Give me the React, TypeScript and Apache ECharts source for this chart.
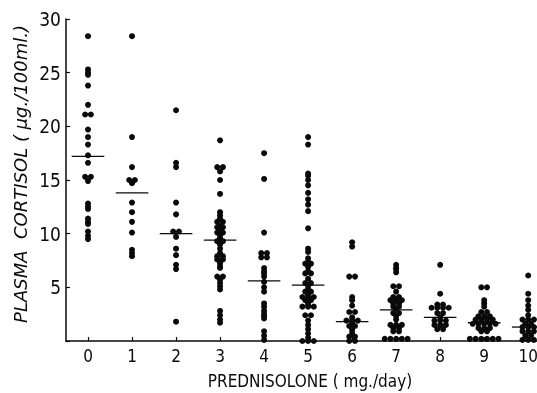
import React, { useEffect, useRef } from "react";
import * as echarts from "echarts";

// Tick labels of the dose axis (mg./day)
const tickLabels = ["0", "1", "2", "3", "4", "5", "6", "7", "8", "9", "10"];
const yTicks = [0, 5, 10, 15, 20, 25, 30];

// Plasma cortisol (µg./100ml.) per prednisolone dose
const dose0 = [28.4, 25.3, 25.0, 24.8, 23.8, 22.0, 21.1, 21.1, 19.7, 19.0, 18.3, 17.3, 16.6, 15.3, 15.3, 14.9, 12.8, 12.5, 12.3, 11.4, 11.1, 10.9, 10.2, 9.8, 9.5];
const dose1 = [28.4, 19.0, 16.2, 15.0, 15.0, 14.7, 12.9, 12.0, 11.1, 10.1, 8.5, 8.2, 7.9];
const dose2 = [21.5, 16.6, 16.2, 12.9, 11.8, 10.2, 10.2, 9.7, 8.6, 8.0, 7.1, 6.7, 1.8];
const dose3 = [18.7, 16.2, 16.2, 15.8, 15.0, 13.7, 12.0, 11.7, 11.4, 11.1, 11.1, 10.7, 10.6, 10.6, 10.4, 10.2, 10.1, 10.1, 9.9, 9.6, 9.5, 9.3, 9.3, 9.0, 8.6, 8.2, 7.9, 7.9, 7.6, 7.6, 7.4, 7.2, 6.9, 6.8, 6.0, 6.0, 5.7, 5.4, 5.1, 4.8, 2.8, 2.4, 2.0, 1.7];
const dose4 = [17.5, 15.1, 10.1, 8.2, 8.2, 7.8, 7.8, 6.8, 6.5, 6.3, 6.0, 5.5, 5.0, 4.6, 3.5, 3.2, 2.8, 2.5, 2.3, 2.1, 0.9, 0.5, 0.1];
const dose5 = [19.0, 18.3, 15.6, 15.4, 15.0, 14.5, 13.8, 13.2, 12.7, 12.1, 10.5, 8.6, 8.3, 7.7, 7.4, 7.2, 7.2, 6.9, 6.5, 6.3, 6.3, 5.8, 5.4, 5.4, 5.1, 4.8, 4.6, 4.6, 4.3, 4.1, 4.1, 4.1, 3.8, 3.8, 3.6, 3.4, 3.2, 3.2, 3.2, 2.4, 2.4, 1.9, 1.5, 1.1, 0.7, 0.3, 0.0, 0.0, 0.0];
const dose6 = [9.2, 8.8, 6.0, 6.0, 4.1, 3.8, 3.3, 2.7, 2.7, 2.2, 1.9, 1.9, 1.9, 1.7, 1.5, 1.4, 1.4, 1.2, 1.0, 0.7, 0.4, 0.4, 0.0, 0.0];
const dose7 = [7.1, 6.8, 6.7, 6.4, 5.1, 5.1, 4.6, 4.1, 4.1, 3.8, 3.8, 3.8, 3.5, 3.5, 3.2, 3.2, 3.0, 2.6, 2.6, 2.3, 2.0, 1.5, 1.5, 1.5, 1.2, 1.2, 0.9, 0.9, 0.2, 0.2, 0.2, 0.2, 0.2];
const dose8 = [7.1, 4.4, 3.4, 3.4, 3.1, 3.1, 3.1, 3.1, 2.6, 2.6, 2.2, 1.9, 1.9, 1.9, 1.5, 1.5, 1.5, 1.1, 1.1];
const dose9 = [5.0, 5.0, 3.8, 3.5, 3.2, 2.7, 2.7, 2.3, 2.3, 2.3, 2.0, 2.0, 2.0, 2.0, 1.6, 1.6, 1.6, 1.6, 1.6, 1.2, 1.2, 1.2, 0.9, 0.9, 0.2, 0.2, 0.2, 0.2, 0.2, 0.2];
const dose10 = [6.1, 4.4, 3.8, 3.3, 2.9, 2.4, 2.0, 2.0, 2.0, 1.6, 1.6, 1.3, 1.3, 1.3, 0.9, 0.9, 0.9, 0.5, 0.5, 0.1, 0.1, 0.1];
const doseGroups = [dose0, dose1, dose2, dose3, dose4, dose5, dose6, dose7, dose8, dose9, dose10];

// Group means (horizontal bars)
const means = [17.2, 13.8, 10.0, 9.4, 5.6, 5.2, 1.8, 2.9, 2.2, 1.7, 1.3];

const INK = "#0a0a0a";
const FONT = "'DejaVu Sans Condensed', 'DejaVu Sans', sans-serif";

// equal values are laid out in a centred horizontal row
function swarm(values: number[], index: number, step: number): number[][] {
  const groups = new Map<string, number[]>();
  values.forEach((v) => {
    const k = v.toFixed(1);
    if (!groups.has(k)) groups.set(k, []);
    groups.get(k)!.push(v);
  });
  const out: number[][] = [];
  groups.forEach((vals) => {
    const n = vals.length;
    vals.forEach((v, j) => out.push([index + (j - (n - 1) / 2) * step, v]));
  });
  return out;
}

export default function App() {
  const ref = useRef<HTMLDivElement>(null);
  useEffect(() => {
    if (!ref.current) return;
    const chart = echarts.init(ref.current, null, { renderer: "svg" });
    const step = 0.13;
    const points: number[][] = [];
    doseGroups.forEach((g, i) => points.push(...swarm(g, i, step)));
    const meanData = means.map((m, i) => [i, m]);
    const tickIdx = tickLabels.map((_, i) => i);

    chart.setOption({
      animation: false,
      grid: { left: 66, right: 0, top: 19, bottom: 52, outerBoundsMode: "none" },
      xAxis: {
        type: "value",
        min: -0.5,
        max: 10.2,
        splitLine: { show: false },
        axisLine: { show: true, onZero: false, lineStyle: { color: INK, width: 1.5 } },
        axisTick: { show: true, inside: true, length: 4, customValues: tickIdx, lineStyle: { color: INK, width: 1.2 } },
        axisLabel: {
          customValues: tickIdx,
          formatter: (v: number) => tickLabels[Math.round(v)] ?? "",
          color: INK,
          fontFamily: FONT,
          fontSize: 17,
          margin: 6,
        },
      },
      yAxis: {
        type: "value",
        min: yTicks[0],
        max: yTicks[yTicks.length - 1],
        interval: 5,
        splitLine: { show: false },
        axisLine: { show: true, onZero: false, lineStyle: { color: INK, width: 1.5 } },
        axisTick: { show: true, inside: true, length: 4, lineStyle: { color: INK, width: 1.2 } },
        axisLabel: {
          formatter: (v: number) => (v === 0 ? "" : String(v)),
          color: INK,
          fontFamily: FONT,
          fontSize: 19,
          margin: 5,
        },
      },
      graphic: [
        {
          type: "text",
          x: 20,
          y: 174,
          rotation: Math.PI / 2,
          style: {
            text: "PLASMA  CORTISOL ( µg./100ml.)",
            font: "italic 18px 'DejaVu Sans', sans-serif",
            fill: INK,
            align: "center",
            verticalAlign: "middle",
          },
        },
        {
          type: "text",
          x: 310,
          y: 381,
          style: {
            text: "PREDNISOLONE ( mg./day)",
            font: "17px " + FONT,
            fill: INK,
            align: "center",
            verticalAlign: "middle",
          },
        },
      ],
      series: [
        {
          type: "scatter",
          data: points,
          symbol: "circle",
          symbolSize: 6,
          clip: false,
          itemStyle: { color: INK, opacity: 1 },
        },
        {
          type: "custom",
          data: meanData,
          clip: false,
          renderItem: (params: any, api: any) => {
            const x = api.value(0);
            const y = api.value(1);
            const p1 = api.coord([x - 0.37, y]);
            const p2 = api.coord([x + 0.37, y]);
            return {
              type: "line",
              shape: { x1: p1[0], y1: p1[1], x2: Math.min(p2[0], 537), y2: p2[1] },
              style: { stroke: INK, lineWidth: 1.3 },
            };
          },
        },
      ],
    });
    return () => chart.dispose();
  }, []);
  return <div ref={ref} style={{ position: "fixed", left: 0, top: 0, width: 537, height: 393 }} />;
}
